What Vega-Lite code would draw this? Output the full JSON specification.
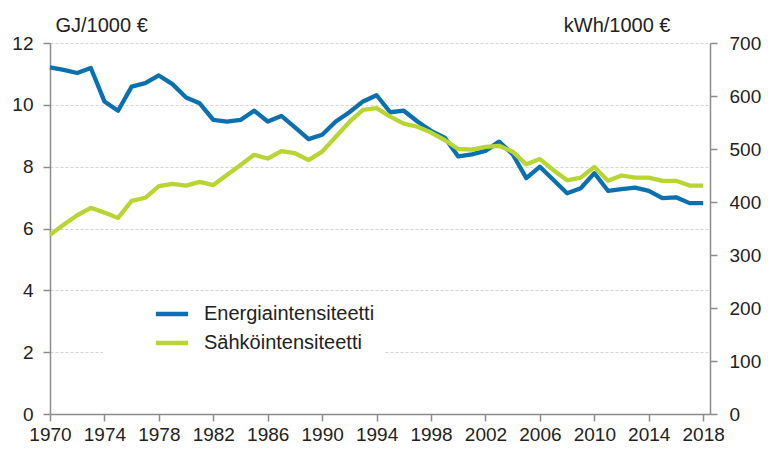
{
  "$schema": "https://vega.github.io/schema/vega-lite/v6.json",
  "width": 660,
  "height": 371,
  "autosize": {"type": "none"},
  "padding": {"left": 50, "top": 43, "right": 58, "bottom": 38},
  "background": "white",
  "config": {
    "view": {"stroke": null},
    "font": "Liberation Sans",
    "axis": {
      "labelFont": "Liberation Sans",
      "titleFont": "Liberation Sans",
      "labelFontSize": 19,
      "labelColor": "#222222",
      "titleColor": "#222222",
      "titleFontSize": 20,
      "titleFontWeight": "normal",
      "domainColor": "#8c8c8c",
      "tickColor": "#8c8c8c",
      "tickSize": 7,
      "domainWidth": 1.5,
      "tickWidth": 1.5
    },
    "legend": {
      "labelFont": "Liberation Sans",
      "labelFontSize": 20,
      "labelColor": "#222222"
    }
  },
  "data": {
    "values": [
      {"year": 1970, "series": "Energiaintensiteetti", "value": 11.21},
      {"year": 1971, "series": "Energiaintensiteetti", "value": 11.13},
      {"year": 1972, "series": "Energiaintensiteetti", "value": 11.03},
      {"year": 1973, "series": "Energiaintensiteetti", "value": 11.19},
      {"year": 1974, "series": "Energiaintensiteetti", "value": 10.11},
      {"year": 1975, "series": "Energiaintensiteetti", "value": 9.81},
      {"year": 1976, "series": "Energiaintensiteetti", "value": 10.59},
      {"year": 1977, "series": "Energiaintensiteetti", "value": 10.7},
      {"year": 1978, "series": "Energiaintensiteetti", "value": 10.95},
      {"year": 1979, "series": "Energiaintensiteetti", "value": 10.67},
      {"year": 1980, "series": "Energiaintensiteetti", "value": 10.24},
      {"year": 1981, "series": "Energiaintensiteetti", "value": 10.05},
      {"year": 1982, "series": "Energiaintensiteetti", "value": 9.51},
      {"year": 1983, "series": "Energiaintensiteetti", "value": 9.46},
      {"year": 1984, "series": "Energiaintensiteetti", "value": 9.51},
      {"year": 1985, "series": "Energiaintensiteetti", "value": 9.81},
      {"year": 1986, "series": "Energiaintensiteetti", "value": 9.46},
      {"year": 1987, "series": "Energiaintensiteetti", "value": 9.64},
      {"year": 1988, "series": "Energiaintensiteetti", "value": 9.27},
      {"year": 1989, "series": "Energiaintensiteetti", "value": 8.89},
      {"year": 1990, "series": "Energiaintensiteetti", "value": 9.03},
      {"year": 1991, "series": "Energiaintensiteetti", "value": 9.46},
      {"year": 1992, "series": "Energiaintensiteetti", "value": 9.76},
      {"year": 1993, "series": "Energiaintensiteetti", "value": 10.11},
      {"year": 1994, "series": "Energiaintensiteetti", "value": 10.31},
      {"year": 1995, "series": "Energiaintensiteetti", "value": 9.76},
      {"year": 1996, "series": "Energiaintensiteetti", "value": 9.81},
      {"year": 1997, "series": "Energiaintensiteetti", "value": 9.46},
      {"year": 1998, "series": "Energiaintensiteetti", "value": 9.16},
      {"year": 1999, "series": "Energiaintensiteetti", "value": 8.94},
      {"year": 2000, "series": "Energiaintensiteetti", "value": 8.33},
      {"year": 2001, "series": "Energiaintensiteetti", "value": 8.4},
      {"year": 2002, "series": "Energiaintensiteetti", "value": 8.51},
      {"year": 2003, "series": "Energiaintensiteetti", "value": 8.81},
      {"year": 2004, "series": "Energiaintensiteetti", "value": 8.4},
      {"year": 2005, "series": "Energiaintensiteetti", "value": 7.63},
      {"year": 2006, "series": "Energiaintensiteetti", "value": 8.0},
      {"year": 2007, "series": "Energiaintensiteetti", "value": 7.57},
      {"year": 2008, "series": "Energiaintensiteetti", "value": 7.14},
      {"year": 2009, "series": "Energiaintensiteetti", "value": 7.3},
      {"year": 2010, "series": "Energiaintensiteetti", "value": 7.79},
      {"year": 2011, "series": "Energiaintensiteetti", "value": 7.22},
      {"year": 2012, "series": "Energiaintensiteetti", "value": 7.27},
      {"year": 2013, "series": "Energiaintensiteetti", "value": 7.32},
      {"year": 2014, "series": "Energiaintensiteetti", "value": 7.22},
      {"year": 2015, "series": "Energiaintensiteetti", "value": 6.98},
      {"year": 2016, "series": "Energiaintensiteetti", "value": 7.01},
      {"year": 2017, "series": "Energiaintensiteetti", "value": 6.82},
      {"year": 2018, "series": "Energiaintensiteetti", "value": 6.82},
      {"year": 1970, "series": "Sähköintensiteetti", "value": 338},
      {"year": 1971, "series": "Sähköintensiteetti", "value": 357},
      {"year": 1972, "series": "Sähköintensiteetti", "value": 375},
      {"year": 1973, "series": "Sähköintensiteetti", "value": 389},
      {"year": 1974, "series": "Sähköintensiteetti", "value": 380},
      {"year": 1975, "series": "Sähköintensiteetti", "value": 370},
      {"year": 1976, "series": "Sähköintensiteetti", "value": 402},
      {"year": 1977, "series": "Sähköintensiteetti", "value": 408},
      {"year": 1978, "series": "Sähköintensiteetti", "value": 430},
      {"year": 1979, "series": "Sähköintensiteetti", "value": 434},
      {"year": 1980, "series": "Sähköintensiteetti", "value": 431},
      {"year": 1981, "series": "Sähköintensiteetti", "value": 438},
      {"year": 1982, "series": "Sähköintensiteetti", "value": 432},
      {"year": 1983, "series": "Sähköintensiteetti", "value": 451},
      {"year": 1984, "series": "Sähköintensiteetti", "value": 470},
      {"year": 1985, "series": "Sähköintensiteetti", "value": 489},
      {"year": 1986, "series": "Sähköintensiteetti", "value": 482},
      {"year": 1987, "series": "Sähköintensiteetti", "value": 496},
      {"year": 1988, "series": "Sähköintensiteetti", "value": 492},
      {"year": 1989, "series": "Sähköintensiteetti", "value": 479},
      {"year": 1990, "series": "Sähköintensiteetti", "value": 495},
      {"year": 1991, "series": "Sähköintensiteetti", "value": 523},
      {"year": 1992, "series": "Sähköintensiteetti", "value": 551},
      {"year": 1993, "series": "Sähköintensiteetti", "value": 574},
      {"year": 1994, "series": "Sähköintensiteetti", "value": 577},
      {"year": 1995, "series": "Sähköintensiteetti", "value": 561},
      {"year": 1996, "series": "Sähköintensiteetti", "value": 548},
      {"year": 1997, "series": "Sähköintensiteetti", "value": 542},
      {"year": 1998, "series": "Sähköintensiteetti", "value": 531},
      {"year": 1999, "series": "Sähköintensiteetti", "value": 517},
      {"year": 2000, "series": "Sähköintensiteetti", "value": 500},
      {"year": 2001, "series": "Sähköintensiteetti", "value": 499},
      {"year": 2002, "series": "Sähköintensiteetti", "value": 504},
      {"year": 2003, "series": "Sähköintensiteetti", "value": 506},
      {"year": 2004, "series": "Sähköintensiteetti", "value": 495},
      {"year": 2005, "series": "Sähköintensiteetti", "value": 471},
      {"year": 2006, "series": "Sähköintensiteetti", "value": 481},
      {"year": 2007, "series": "Sähköintensiteetti", "value": 460},
      {"year": 2008, "series": "Sähköintensiteetti", "value": 441},
      {"year": 2009, "series": "Sähköintensiteetti", "value": 446},
      {"year": 2010, "series": "Sähköintensiteetti", "value": 466},
      {"year": 2011, "series": "Sähköintensiteetti", "value": 440},
      {"year": 2012, "series": "Sähköintensiteetti", "value": 450},
      {"year": 2013, "series": "Sähköintensiteetti", "value": 446},
      {"year": 2014, "series": "Sähköintensiteetti", "value": 446},
      {"year": 2015, "series": "Sähköintensiteetti", "value": 440},
      {"year": 2016, "series": "Sähköintensiteetti", "value": 440},
      {"year": 2017, "series": "Sähköintensiteetti", "value": 431},
      {"year": 2018, "series": "Sähköintensiteetti", "value": 431}
    ]
  },
  "encoding": {
    "x": {
      "field": "year",
      "type": "quantitative",
      "scale": {"domain": [1970, 2018.5], "nice": false, "zero": false},
      "axis": {
        "title": null,
        "grid": false,
        "values": [1970, 1974, 1978, 1982, 1986, 1990, 1994, 1998, 2002, 2006, 2010, 2014, 2018],
        "format": "d",
        "labelFlush": false,
        "labelPadding": 4,
        "labelOverlap": false
      }
    },
    "color": {
      "field": "series",
      "type": "nominal",
      "scale": {
        "domain": ["Energiaintensiteetti", "Sähköintensiteetti"],
        "range": ["#0a70b0", "#b8d532"]
      },
      "legend": {
        "title": null,
        "orient": "none",
        "legendX": 53,
        "legendY": 251,
        "fillColor": "white",
        "padding": 10,
        "symbolType": "M-2.3,0H2.3",
        "symbolSize": 196,
        "symbolStrokeWidth": 4.5,
        "symbolOffset": 49,
        "labelOffset": 22,
        "labelLimit": 400,
        "rowPadding": 9
      }
    }
  },
  "layer": [
    {
      "transform": [{"filter": "datum.series === 'Energiaintensiteetti'"}],
      "mark": {"type": "line", "strokeWidth": 4.3, "strokeJoin": "round"},
      "encoding": {
        "y": {
          "field": "value",
          "type": "quantitative",
          "scale": {"domain": [0, 12], "nice": false},
          "axis": {
            "title": "GJ/1000 €",
            "titleAngle": 0,
            "titleX": 5,
            "titleY": -12,
            "titleAlign": "left",
            "titleBaseline": "alphabetic",
            "values": [0, 2, 4, 6, 8, 10, 12],
            "grid": true,
            "gridColor": "#d4d4d4",
            "gridDash": [3, 2],
            "gridWidth": 1,
            "labelPadding": 10
          }
        }
      }
    },
    {
      "transform": [{"filter": "datum.series === 'Sähköintensiteetti'"}],
      "mark": {"type": "line", "strokeWidth": 4.3, "strokeJoin": "round"},
      "encoding": {
        "y": {
          "field": "value",
          "type": "quantitative",
          "scale": {"domain": [0, 700], "nice": false},
          "axis": {
            "orient": "right",
            "title": "kWh/1000 €",
            "titleAngle": 0,
            "titleX": -40,
            "titleY": -12,
            "titleAlign": "right",
            "titleBaseline": "alphabetic",
            "values": [0, 100, 200, 300, 400, 500, 600, 700],
            "grid": false,
            "labelPadding": 12
          }
        }
      }
    }
  ],
  "resolve": {"scale": {"y": "independent"}}
}
